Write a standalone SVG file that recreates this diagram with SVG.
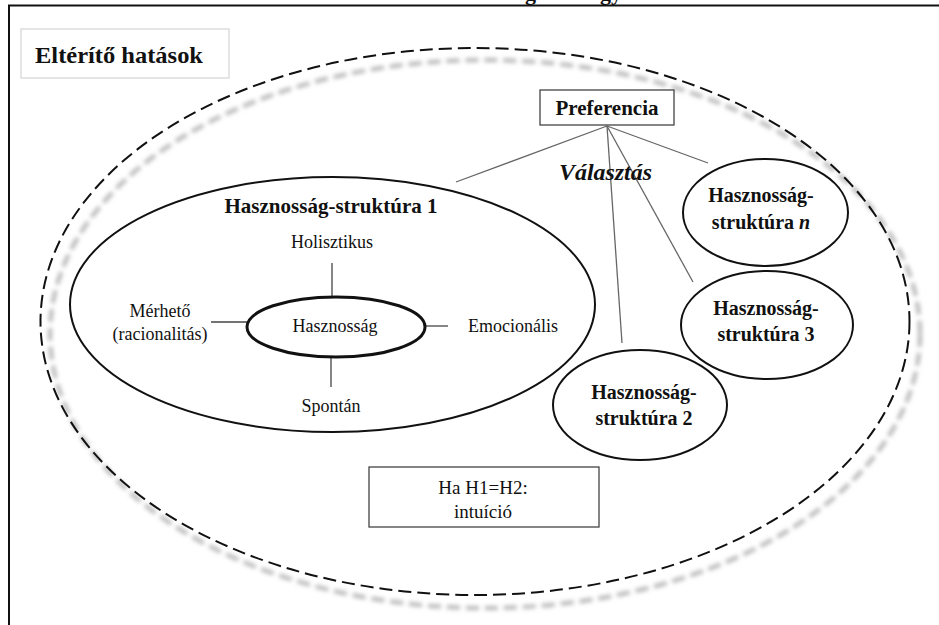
<svg xmlns="http://www.w3.org/2000/svg" width="939" height="625" viewBox="0 0 939 625">
<defs>
<filter id="blur" x="-10%" y="-10%" width="120%" height="120%"><feGaussianBlur stdDeviation="2.2"/></filter>
<filter id="soft" x="-10%" y="-20%" width="120%" height="140%"><feGaussianBlur stdDeviation="0.6"/></filter>
</defs>
<style>
text{font-family:"Liberation Serif","Times New Roman",serif;fill:#111}
.b{font-weight:bold}
.r{font-size:18px}
.m{text-anchor:middle}
.ell{fill:none;stroke:#111;stroke-width:2}
.con{stroke:#666;stroke-width:1.3;fill:none}
.tick{stroke:#444;stroke-width:1.3}
</style>
<rect width="939" height="625" fill="#fff"/>
<g id="frame">
<rect x="9" y="5.5" width="945" height="640" fill="none" stroke="#111" stroke-width="2"/>
<text class="b" x="525" y="0" font-size="22">g</text>
<text class="b" x="600" y="0" font-size="22">gy</text>
</g>
<g id="outer">
<ellipse cx="485" cy="334" rx="435" ry="274" fill="none" stroke="#b5b5b5" stroke-width="4" stroke-dasharray="13 6" filter="url(#blur)"/>
<ellipse cx="475" cy="321.5" rx="434.5" ry="273.5" fill="none" stroke="#111" stroke-width="2" stroke-dasharray="13 6"/>
</g>
<g id="elterito">
<rect x="21" y="29" width="208" height="49" fill="#fff" stroke="#d4d4d4" stroke-width="1.2"/>
<text class="b" x="35" y="63" font-size="24" textLength="168" lengthAdjust="spacingAndGlyphs">Eltérítő hatások</text>
</g>
<g id="connectors">
<line class="con" x1="607" y1="126" x2="456" y2="182"/>
<line class="con" x1="607" y1="126" x2="622" y2="343"/>
<line class="con" x1="607" y1="126" x2="693" y2="282"/>
<line class="con" x1="607" y1="126" x2="708" y2="163"/>
<line class="tick" x1="332" y1="263" x2="332" y2="296"/>
<line class="tick" x1="211" y1="322" x2="248" y2="322"/>
<line class="tick" x1="424" y1="326" x2="448" y2="326"/>
<line class="tick" x1="331" y1="357" x2="331" y2="387"/>
</g>
<g id="preferencia">
<rect x="540" y="90" width="134" height="35" fill="#fff" stroke="#444" stroke-width="1.3"/>
<text class="b m" x="607" y="115" font-size="21">Preferencia</text>
</g>
<g id="valasztas">
<text class="b" x="559" y="180" font-size="23" font-style="italic" textLength="93" lengthAdjust="spacingAndGlyphs">Választás</text>
</g>
<g id="hs1">
<ellipse class="ell" cx="332.5" cy="304.5" rx="262.5" ry="127.5"/>
<text class="b m" x="331" y="213" font-size="21">Hasznosság-struktúra 1</text>
<text class="r m" x="332" y="248">Holisztikus</text>
<text class="r m" x="160" y="317">Mérhető</text>
<text class="r m" x="160" y="340">(racionalitás)</text>
<text class="r" x="468" y="332">Emocionális</text>
<text class="r m" x="331" y="412">Spontán</text>
</g>
<g id="hasznossag">
<ellipse cx="336" cy="327" rx="89" ry="30" fill="none" stroke="#111" stroke-width="3"/>
<text class="r m" x="335" y="332">Hasznosság</text>
</g>
<g id="hsn">
<ellipse class="ell" cx="765.5" cy="212.5" rx="82.5" ry="53.5"/>
<text class="b m" x="761" y="202" font-size="20">Hasznosság-</text>
<text class="b m" x="761" y="229" font-size="20">struktúra <tspan font-style="italic">n</tspan></text>
</g>
<g id="hs3">
<ellipse class="ell" cx="767" cy="325" rx="86" ry="54"/>
<text class="b m" x="766" y="315" font-size="20">Hasznosság-</text>
<text class="b m" x="766" y="341" font-size="20">struktúra 3</text>
</g>
<g id="hs2">
<ellipse class="ell" cx="640" cy="405" rx="87" ry="55"/>
<text class="b m" x="644" y="399" font-size="20">Hasznosság-</text>
<text class="b m" x="644" y="425" font-size="20">struktúra 2</text>
</g>
<g id="intuicio">
<rect x="369" y="467" width="230" height="60" fill="#fff" stroke="#444" stroke-width="1.3"/>
<text class="m" x="483" y="494" font-size="19">Ha H1=H2:</text>
<text class="m" x="483" y="518" font-size="19">intuíció</text>
</g>
</svg>
